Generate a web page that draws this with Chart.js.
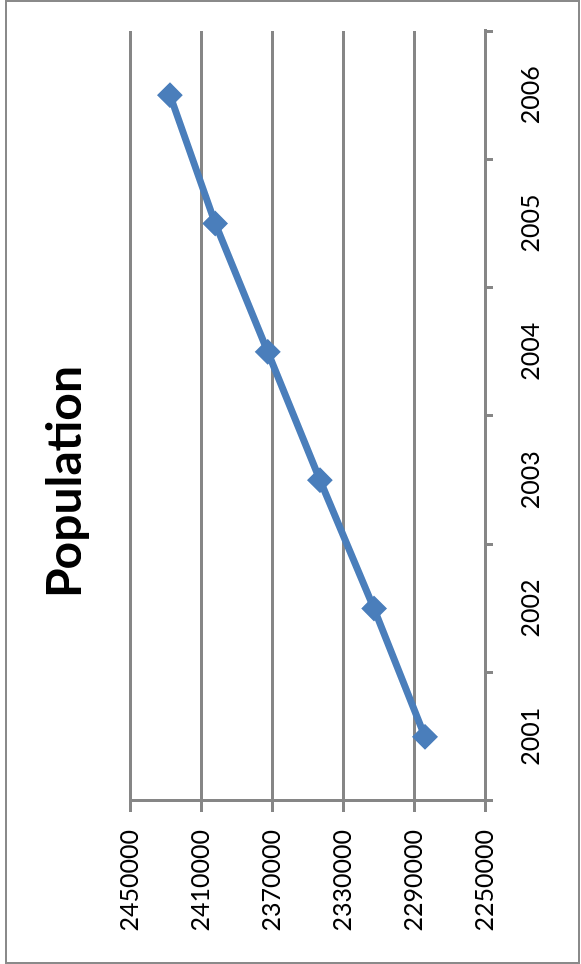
<!DOCTYPE html>
<html>
<head>
<meta charset="utf-8">
<script src="https://cdn.jsdelivr.net/npm/chart.js@4"></script>
<style>
  html, body { margin: 0; padding: 0; background: #fff; overflow: hidden; width: 581px; height: 964px; }
  #frame { position: absolute; left: 5px; top: 0; width: 575px; height: 964px; box-sizing: border-box; border: 2px solid #8a8a8a; pointer-events: none; z-index: 2; }
  #rot { position: absolute; left: 0; top: 0; width: 964px; height: 581px; transform-origin: 0 0; transform: translate(0, 964px) rotate(-90deg); }
  canvas { display: block; }
</style>
</head>
<body>
<div id="rot"><canvas id="c" width="964" height="581"></canvas></div>
<div id="frame"></div>
<script>
const years = ['2001', '2002', '2003', '2004', '2005', '2006'];
const population = [2283800, 2312500, 2343000, 2372400, 2402000, 2427500];
const valueTicks = [2250000, 2290000, 2330000, 2370000, 2410000, 2450000];
const chartTitle = 'Population';

const GRID = '#868686';
const LINE = '#4A7EBB';

Chart.defaults.font.family = 'Lato';
Chart.defaults.color = '#000';

new Chart(document.getElementById('c'), {
  type: 'line',
  data: {
    labels: years,
    datasets: [{
      label: chartTitle,
      data: population,
      yAxisID: 'y',
      borderColor: LINE,
      backgroundColor: LINE,
      borderWidth: 7,
      tension: 0,
      pointStyle: 'rectRot',
      pointRadius: 11.5,
      pointBorderWidth: 2,
      pointBackgroundColor: LINE,
      pointBorderColor: LINE
    }]
  },
  options: {
    responsive: false,
    animation: false,
    layout: { padding: 0 },
    plugins: {
      legend: { display: false },
      tooltip: { enabled: false },
      title: {
        display: true,
        text: chartTitle,
        color: '#000',
        font: { family: 'Lato', size: 48, weight: 'bold' },
        padding: { top: 37, bottom: 35.4 }
      }
    },
    scales: {
      x: {
        type: 'category',
        offset: true,
        grid: { display: true, drawOnChartArea: false, offset: true, color: GRID, lineWidth: 3, tickLength: 8, tickWidth: 3 },
        border: { display: true, color: GRID, width: 3 },
        ticks: { font: { size: 25 }, color: '#000', padding: 23, maxRotation: 0, minRotation: 0 },
        afterFit: (s) => { s.height = 96; }
      },
      y: {
        min: 2250000,
        max: 2450000,
        afterBuildTicks: (s) => { s.ticks = valueTicks.map(v => ({ value: v })); },
        grid: { color: GRID, lineWidth: 3, tickLength: 11, tickWidth: 3 },
        border: { display: true, color: GRID, width: 3 },
        ticks: { font: { size: 25 }, color: '#000', padding: 18, callback: (v) => String(v) },
        afterFit: (s) => { s.width = 163; }
      },
      spacer: {
        type: 'linear',
        position: 'right',
        display: true,
        grid: { display: false, drawTicks: false },
        border: { display: false },
        ticks: { display: false },
        afterFit: (s) => { s.width = 31; }
      }
    }
  }
});
</script>
</body>
</html>
